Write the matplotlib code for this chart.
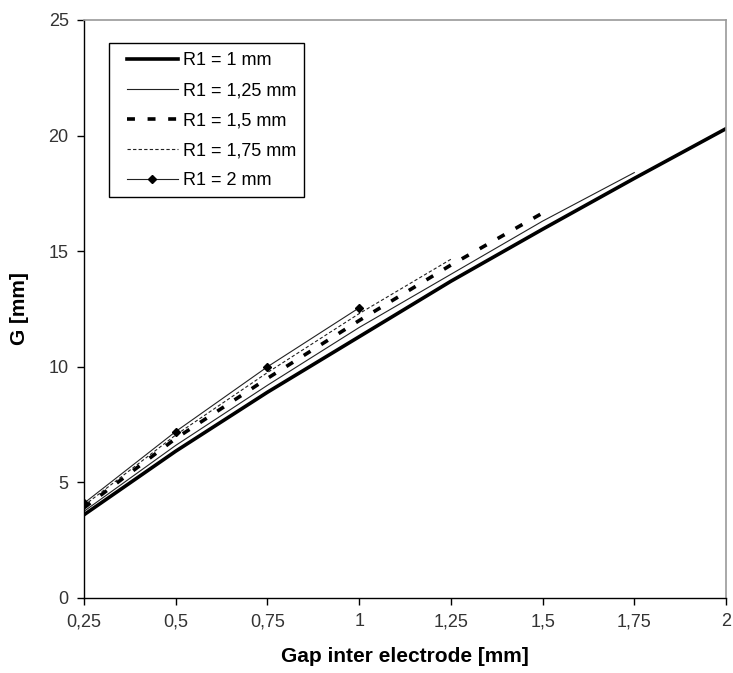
import matplotlib
matplotlib.use("Agg")
import matplotlib.pyplot as plt
from matplotlib.ticker import FuncFormatter
from matplotlib.patches import Rectangle

plt.rcParams['font.family'] = ['Liberation Sans', 'DejaVu Sans']

x_r100 = [0.25, 0.5, 0.75, 1.0, 1.25, 1.5, 1.75, 2.0]
g_r100 = [3.6, 6.35, 8.9, 11.3, 13.7, 15.95, 18.15, 20.3]

x_r125 = [0.25, 0.5, 0.75, 1.0, 1.25, 1.5, 1.75]
g_r125 = [3.75, 6.6, 9.2, 11.7, 14.0, 16.3, 18.4]

x_r150 = [0.25, 0.5, 0.75, 1.0, 1.25, 1.5]
g_r150 = [3.9, 6.9, 9.5, 12.0, 14.4, 16.65]

x_r175 = [0.25, 0.5, 0.75, 1.0, 1.25]
g_r175 = [4.0, 7.05, 9.75, 12.3, 14.65]

x_r200 = [0.25, 0.5, 0.75, 1.0]
g_r200 = [4.1, 7.2, 10.0, 12.55]

labels = ["R1 = 1 mm", "R1 = 1,25 mm", "R1 = 1,5 mm", "R1 = 1,75 mm", "R1 = 2 mm"]
xticks = [0.25, 0.5, 0.75, 1.0, 1.25, 1.5, 1.75, 2.0]
yticks = [0, 5, 10, 15, 20, 25]

W, H = 733, 673
L, R, T, B = 84, 726, 20, 598
fig = plt.figure(figsize=(W / 100, H / 100), dpi=100)
ax = fig.add_axes([L / W, (H - B) / H, (R - L) / W, (B - T) / H])
aw, ah = R - L, B - T

ax.plot(x_r100, g_r100, color='black', lw=2.6, label=labels[0])
ax.plot(x_r125, g_r125, color='#222222', lw=0.8, label=labels[1])
ax.plot(x_r150, g_r150, color='black', lw=2.6, dashes=(2.2, 3.5), label=labels[2])
ax.plot(x_r175, g_r175, color='#222222', lw=0.8, dashes=(3, 2), label=labels[3])
ax.plot(x_r200, g_r200, color='#222222', lw=0.8, marker='D', markersize=4.5,
        markerfacecolor='black', markeredgecolor='black', label=labels[4])

ax.set_xlim(0.25, 2.0)
ax.set_ylim(0, 25)
ax.set_xticks(xticks)
ax.set_yticks(yticks)

def fmt(v, pos):
    return ('%g' % v).replace('.', ',')
ax.xaxis.set_major_formatter(FuncFormatter(fmt))
ax.yaxis.set_major_formatter(FuncFormatter(fmt))

ax.tick_params(direction='out', length=5, width=1, colors='black',
               labelsize=13, labelcolor='#333333', pad=6)

for side in ['left', 'bottom']:
    ax.spines[side].set_color('black')
    ax.spines[side].set_linewidth(1.0)
for side in ['top', 'right']:
    ax.spines[side].set_color('#999999')
    ax.spines[side].set_linewidth(1.2)

ax.set_xlabel('Gap inter electrode [mm]', fontsize=15, fontweight='bold', labelpad=12)
ax.set_ylabel('G [mm]', fontsize=15, fontweight='bold', labelpad=14)

# legend frame drawn manually (asymmetric padding like the reference)
ax.add_patch(Rectangle(((109 - L) / aw, 1 - (197 - T) / ah), (304 - 109) / aw, (197 - 43) / ah,
                       transform=ax.transAxes, facecolor='white', edgecolor='black',
                       lw=1.0, zorder=4))
leg = ax.legend(loc='upper left', bbox_to_anchor=((127 - L) / aw, 1 - (52 - T) / ah),
                fontsize=13, frameon=False,
                handlelength=2.8, handletextpad=0.3, borderpad=0, labelspacing=0.72,
                borderaxespad=0)
leg.set_zorder(5)

fig.savefig('out.png', dpi=100)
